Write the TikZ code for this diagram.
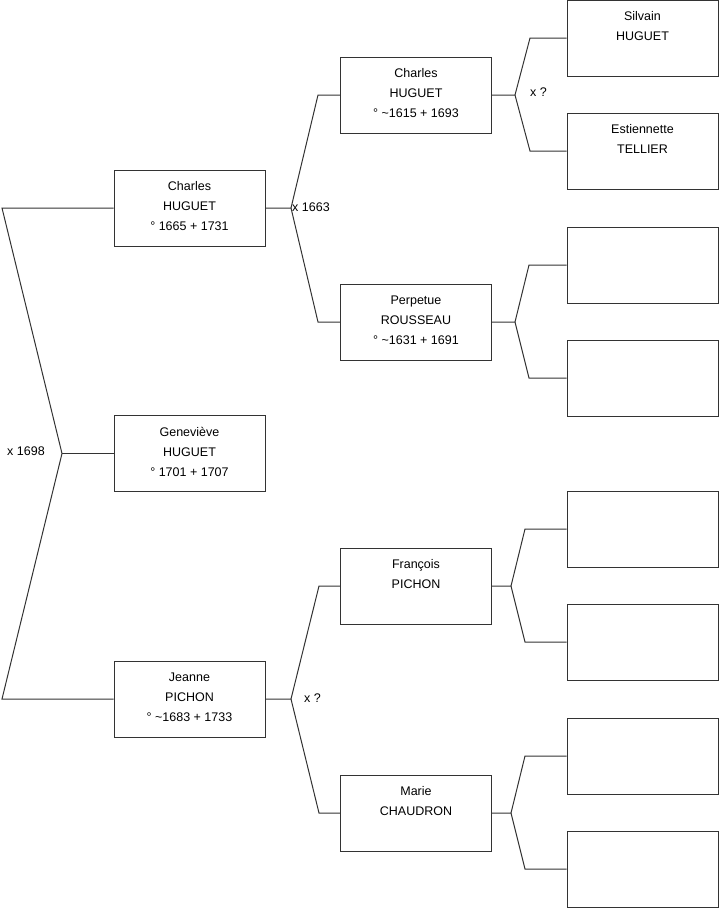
\documentclass[tikz,border=0pt]{standalone}
\usepackage{fontspec}
\setmainfont{Liberation Sans}
\tikzstyle{person}=[rectangle,draw=black!80,line width=1pt,minimum width=151pt,minimum height=76pt,inner sep=0pt,align=center,font=\fontsize{12.5}{20}\selectfont,execute at end node={\rule[-4pt]{0pt}{4pt}}]
\tikzstyle{link}=[draw=black!80,line width=1pt]
\tikzstyle{union}=[anchor=west,inner sep=0pt,font=\fontsize{12.5}{15}\selectfont]

\begin{document}
\begin{tikzpicture}[x=1pt,y=-1pt]
\useasboundingbox (0,0) rectangle (719,908);
% generation 1
\node (charles1) [person] at (189.5,208) {Charles\\HUGUET\\° 1665 + 1731};
\node (genevieve) [person] at (189.5,453.5) {Geneviève\\HUGUET\\° 1701 + 1707};
\node (jeanne) [person] at (189.5,699) {Jeanne\\PICHON\\° \textasciitilde1683 + 1733};
% generation 2
\node (charles2) [person] at (416,95) {Charles\\HUGUET\\° \textasciitilde1615 + 1693};
\node (perpetue) [person] at (416,322) {Perpetue\\ROUSSEAU\\° \textasciitilde1631 + 1691};
\node (francois) [person] at (416,586) {François\\PICHON\\\mbox{}};
\node (marie) [person] at (416,813) {Marie\\CHAUDRON\\\mbox{}};
% generation 3
\node (silvain) [person] at (642.5,38) {Silvain\\HUGUET\\\mbox{}};
\node (estiennette) [person] at (642.5,151) {Estiennette\\TELLIER\\\mbox{}};
\node (perp-f) [person] at (642.5,265) {};
\node (perp-m) [person] at (642.5,378) {};
\node (fran-f) [person] at (642.5,529) {};
\node (fran-m) [person] at (642.5,642) {};
\node (marie-f) [person] at (642.5,756) {};
\node (marie-m) [person] at (642.5,869) {};

% unions
\coordinate (v0) at (62,453.5);
\coordinate (e0) at (2,453.5);
\draw [link] (charles1.west) -- (e0 |- charles1.west) -- (v0) -- (e0 |- jeanne.west) -- (jeanne.west);
\draw [link] (v0) -- (genevieve.west);
\node (m0) [union] at (7,451) {x 1698};

\coordinate (v1) at (291,208);
\coordinate (e1) at (318,208);
\draw [link] (charles1.east) -- (v1) -- (e1 |- charles2.west) -- (charles2.west);
\draw [link] (v1) -- (e1 |- perpetue.west) -- (perpetue.west);
\node (m1) [union] at (292,207) {x 1663};

\coordinate (v2) at (291,699);
\coordinate (e2) at (319,699);
\draw [link] (jeanne.east) -- (v2) -- (e2 |- francois.west) -- (francois.west);
\draw [link] (v2) -- (e2 |- marie.west) -- (marie.west);
\node (m2) [union] at (304,698) {x ?};

\coordinate (v3) at (515,95);
\coordinate (e3) at (530,95);
\draw [link] (charles2.east) -- (v3) -- (e3 |- silvain.west) -- (silvain.west);
\draw [link] (v3) -- (e3 |- estiennette.west) -- (estiennette.west);
\node (m3) [union] at (530,92) {x ?};

\coordinate (v4) at (515,322);
\coordinate (e4) at (529,322);
\draw [link] (perpetue.east) -- (v4) -- (e4 |- perp-f.west) -- (perp-f.west);
\draw [link] (v4) -- (e4 |- perp-m.west) -- (perp-m.west);

\coordinate (v5) at (511,586);
\coordinate (e5) at (525,586);
\draw [link] (francois.east) -- (v5) -- (e5 |- fran-f.west) -- (fran-f.west);
\draw [link] (v5) -- (e5 |- fran-m.west) -- (fran-m.west);

\coordinate (v6) at (511,813);
\coordinate (e6) at (525,813);
\draw [link] (marie.east) -- (v6) -- (e6 |- marie-f.west) -- (marie-f.west);
\draw [link] (v6) -- (e6 |- marie-m.west) -- (marie-m.west);
\end{tikzpicture}
\end{document}
